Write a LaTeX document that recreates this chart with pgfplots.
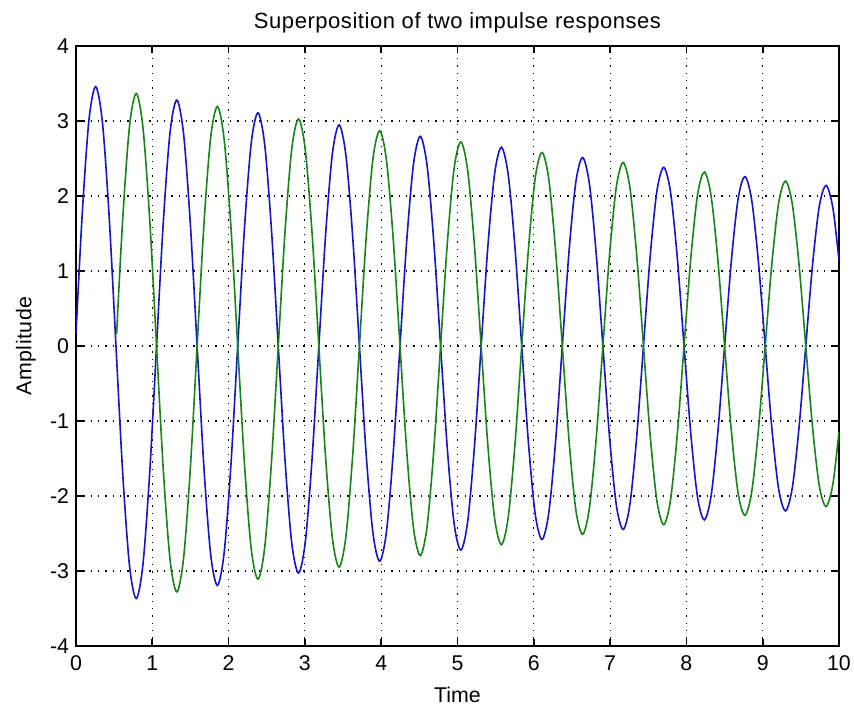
\documentclass[border=0pt]{standalone}
\usepackage{fontspec}
\setmainfont{Liberation Sans}
\usepackage{pgfplots}
\pgfplotsset{compat=1.18}
\definecolor{mblue}{RGB}{20,20,200}
\definecolor{mgreen}{RGB}{25,130,25}
\begin{document}
\begin{tikzpicture}
\useasboundingbox (-57pt,-45pt) rectangle (583.5pt,484.5pt);
\begin{axis}[
  name=ax, at={(0,0)}, anchor=south west,
  scale only axis, width=572.25pt, height=450pt,
  xmin=0, xmax=10, ymin=-4, ymax=4,
  xtick={0,1,2,3,4,5,6,7,8,9,10},
  ytick={-4,-3,-2,-1,0,1,2,3,4},
  grid=major,
  major grid style={black, line width=0.9pt, dash pattern=on 0.9pt off 4.6pt},
  axis line style={black, line width=1.2pt},
  tick style={black, line width=1.2pt},
  major tick length=5pt,
  tick align=inside,
  tick label style={font=\fontsize{16}{19}\selectfont},
  xticklabel style={yshift=-3.7pt},
  yticklabel style={xshift=-1.7pt},
  /pgf/number format/assume math mode=true,
]
\addplot[mblue, line width=1.2pt, smooth, mark=none] coordinates {
(0,0.163)
(0.0807,1.7444) (0.1694,3.0079) (0.2580,3.4579) (0.3466,2.9814) (0.4353,1.7137) (0.5239,0) (0.6125,-1.6986) (0.7012,-2.9290) (0.7898,-3.3671) (0.8784,-2.9031) (0.9671,-1.6687)
(1.0557,0) (1.1443,1.6539) (1.2330,2.8520) (1.3216,3.2786) (1.4102,2.8268) (1.4989,1.6248) (1.5875,0) (1.6761,-1.6105) (1.7648,-2.7771) (1.8534,-3.1925) (1.9420,-2.7525) (2.0307,-1.5821)
(2.1193,0) (2.2079,1.5682) (2.2966,2.7041) (2.3852,3.1086) (2.4738,2.6802) (2.5625,1.5406) (2.6511,0) (2.7397,-1.5269) (2.8284,-2.6330) (2.9170,-3.0269) (3.0056,-2.6098) (3.0943,-1.5001)
(3.1829,0) (3.2715,1.4868) (3.3602,2.5639) (3.4488,2.9474) (3.5374,2.5412) (3.6261,1.4607) (3.7147,0) (3.8033,-1.4478) (3.8920,-2.4965) (3.9806,-2.8700) (4.0692,-2.4745) (4.1579,-1.4223)
(4.2465,0) (4.3351,1.4097) (4.4238,2.4309) (4.5124,2.7945) (4.6010,2.4094) (4.6896,1.3849) (4.7783,0) (4.8669,-1.3727) (4.9555,-2.3670) (5.0442,-2.7211) (5.1328,-2.3461) (5.2214,-1.3485)
(5.3101,0) (5.3987,1.3367) (5.4873,2.3049) (5.5760,2.6497) (5.6646,2.2845) (5.7532,1.3131) (5.8419,0) (5.9305,-1.3015) (6.0191,-2.2443) (6.1078,-2.5800) (6.1964,-2.2245) (6.2850,-1.2786)
(6.3737,0) (6.4623,1.2673) (6.5509,2.1854) (6.6396,2.5123) (6.7282,2.1661) (6.8168,1.2451) (6.9055,0) (6.9941,-1.2341) (7.0827,-2.1280) (7.1714,-2.4463) (7.2600,-2.1092) (7.3486,-1.2123)
(7.4373,0) (7.5259,1.2016) (7.6145,2.0720) (7.7032,2.3820) (7.7918,2.0537) (7.8804,1.1805) (7.9691,0) (8.0577,-1.1700) (8.1463,-2.0176) (8.2350,-2.3194) (8.3236,-1.9998) (8.4122,-1.1495)
(8.5009,0) (8.5895,1.1393) (8.6781,1.9646) (8.7668,2.2585) (8.8554,1.9473) (8.9440,1.1193) (9.0327,0) (9.1213,-1.1094) (9.2099,-1.9130) (9.2986,-2.1992) (9.3872,-1.8961) (9.4758,-1.0899)
(9.5645,0) (9.6531,1.0802) (9.7417,1.8628) (9.8304,2.1414) (9.9190,1.8463) (10,1.143)
};
\addplot[mgreen, line width=1.2pt, smooth, mark=none] coordinates {
(0.5318,0.159) (0.6125,1.6986) (0.7012,2.9290) (0.7898,3.3671) (0.8784,2.9031) (0.9671,1.6687)
(1.0557,0) (1.1443,-1.6539) (1.2330,-2.8520) (1.3216,-3.2786) (1.4102,-2.8268) (1.4989,-1.6248) (1.5875,0) (1.6761,1.6105) (1.7648,2.7771) (1.8534,3.1925) (1.9420,2.7525) (2.0307,1.5821)
(2.1193,0) (2.2079,-1.5682) (2.2966,-2.7041) (2.3852,-3.1086) (2.4738,-2.6802) (2.5625,-1.5406) (2.6511,0) (2.7397,1.5269) (2.8284,2.6330) (2.9170,3.0269) (3.0056,2.6098) (3.0943,1.5001)
(3.1829,0) (3.2715,-1.4868) (3.3602,-2.5639) (3.4488,-2.9474) (3.5374,-2.5412) (3.6261,-1.4607) (3.7147,0) (3.8033,1.4478) (3.8920,2.4965) (3.9806,2.8700) (4.0692,2.4745) (4.1579,1.4223)
(4.2465,0) (4.3351,-1.4097) (4.4238,-2.4309) (4.5124,-2.7945) (4.6010,-2.4094) (4.6896,-1.3849) (4.7783,0) (4.8669,1.3727) (4.9555,2.3670) (5.0442,2.7211) (5.1328,2.3461) (5.2214,1.3485)
(5.3101,0) (5.3987,-1.3367) (5.4873,-2.3049) (5.5760,-2.6497) (5.6646,-2.2845) (5.7532,-1.3131) (5.8419,0) (5.9305,1.3015) (6.0191,2.2443) (6.1078,2.5800) (6.1964,2.2245) (6.2850,1.2786)
(6.3737,0) (6.4623,-1.2673) (6.5509,-2.1854) (6.6396,-2.5123) (6.7282,-2.1661) (6.8168,-1.2451) (6.9055,0) (6.9941,1.2341) (7.0827,2.1280) (7.1714,2.4463) (7.2600,2.1092) (7.3486,1.2123)
(7.4373,0) (7.5259,-1.2016) (7.6145,-2.0720) (7.7032,-2.3820) (7.7918,-2.0537) (7.8804,-1.1805) (7.9691,0) (8.0577,1.1700) (8.1463,2.0176) (8.2350,2.3194) (8.3236,1.9998) (8.4122,1.1495)
(8.5009,0) (8.5895,-1.1393) (8.6781,-1.9646) (8.7668,-2.2585) (8.8554,-1.9473) (8.9440,-1.1193) (9.0327,0) (9.1213,1.1094) (9.2099,1.9130) (9.2986,2.1992) (9.3872,1.8961) (9.4758,1.0899)
(9.5645,0) (9.6531,-1.0802) (9.7417,-1.8628) (9.8304,-2.1414) (9.9190,-1.8463) (10,-1.143)
};
\end{axis}
\node[anchor=base, font=\fontsize{16.5}{19}\selectfont] at ([yshift=13.3pt]ax.north) {\addfontfeature{LetterSpace=2.5}Superposition of two impulse responses};
\node[anchor=base, font=\fontsize{16}{19}\selectfont] at ([yshift=-42.75pt]ax.south) {Time};
\node[anchor=base, rotate=90, font=\fontsize{16}{19}\selectfont] at ([xshift=-33.4pt]ax.west) {\addfontfeature{LetterSpace=2.5}Amplitude};
\end{tikzpicture}
\end{document}
